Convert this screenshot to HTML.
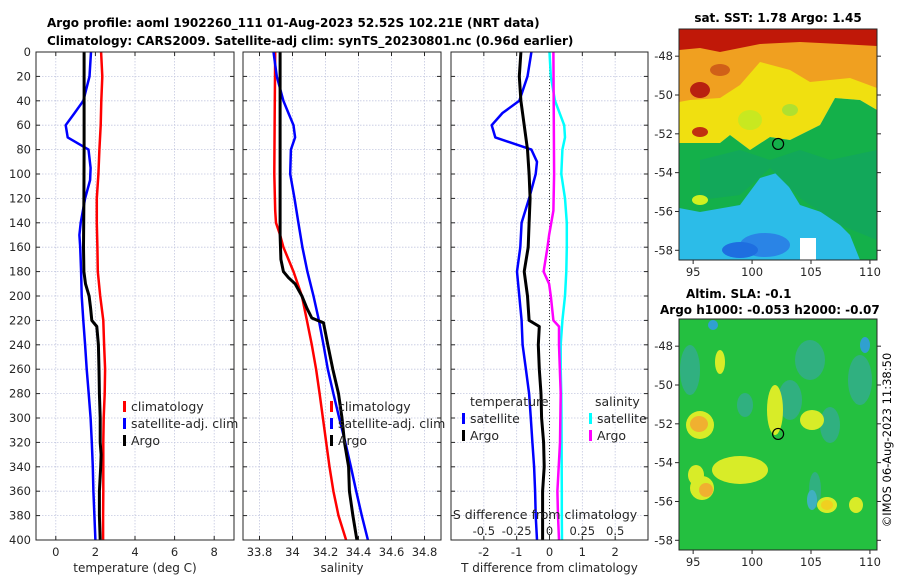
<!DOCTYPE html>
<html><head><meta charset="utf-8"><style>
body{margin:0;background:#fff;width:900px;height:580px;overflow:hidden}
svg{font-family:"DejaVu Sans","Liberation Sans",sans-serif}
</style></head><body>
<svg id="c" width="900" height="580" viewBox="0 0 900 580">
<text x="47" y="27" font-size="12" font-weight="bold">Argo profile: aoml 1902260_111 01-Aug-2023 52.52S 102.21E (NRT data)</text>
<text x="47" y="45" font-size="12" font-weight="bold">Climatology: CARS2009. Satellite-adj clim: synTS_20230801.nc (0.96d earlier)</text>
<g id="panels"></g>
<g id="maps"></g>
</svg>
<script>
// ---- data ----
const depthTicks=[0,20,40,60,80,100,120,140,160,180,200,220,240,260,280,300,320,340,360,380,400];
const tTicks=[0,2,4,6,8];
const sTicks=[33.8,34,34.2,34.4,34.6,34.8];
const sTickLabels=["33.8","34","34.2","34.4","34.6","34.8"];
const dTicks=[-2,-1,0,1,2];
const sdTicks=[-0.5,-0.25,0,0.25,0.5];
const sdTickLabels=["-0.5","-0.25","0","0.25","0.5"];

const climTdepth=[0,20,40,60,80,100,120,140,160,180,200,220,240,260,280,300,320,340,360,380,400];
const climT=[2.29,2.35,2.30,2.27,2.20,2.15,2.07,2.07,2.10,2.12,2.24,2.40,2.44,2.49,2.47,2.42,2.40,2.40,2.40,2.39,2.39];
const satTdepth=[0,20,40,50,60,70,80,95,105,120,140,150,160,180,200,220,240,260,280,300,320,340,360,380,400];
const satT=[1.78,1.70,1.39,0.95,0.50,0.60,1.65,1.76,1.73,1.48,1.26,1.19,1.23,1.28,1.31,1.39,1.48,1.56,1.66,1.76,1.82,1.87,1.90,1.95,2.00];
const argoTdepth=[0,40,80,120,160,180,190,200,210,220,225,240,260,280,300,320,330,340,360,380,400];
const argoT=[1.43,1.43,1.43,1.42,1.40,1.42,1.50,1.68,1.76,1.82,2.07,2.15,2.18,2.20,2.24,2.24,2.29,2.27,2.20,2.20,2.24];

const climSdepth=[0,50,100,130,140,150,160,180,200,220,240,260,280,300,320,340,360,380,400];
const climS=[33.895,33.892,33.890,33.895,33.900,33.925,33.945,34.006,34.057,34.087,34.117,34.143,34.164,34.184,34.204,34.224,34.248,34.279,34.325];
const satSdepth=[0,20,40,50,60,70,80,100,120,140,160,180,200,220,240,260,280,300,320,340,360,380,400];
const satS=[33.885,33.905,33.945,33.975,34.006,34.016,33.990,33.986,34.012,34.036,34.060,34.090,34.127,34.160,34.188,34.214,34.248,34.283,34.320,34.354,34.386,34.420,34.457];
const argoSdepth=[0,50,100,150,160,170,180,185,190,200,210,218,222,240,260,280,300,320,340,360,380,400];
const argoS=[33.925,33.925,33.925,33.925,33.927,33.930,33.945,33.976,34.016,34.057,34.087,34.117,34.188,34.214,34.244,34.279,34.300,34.315,34.340,34.345,34.366,34.390];

const satTdDepth=[0,20,40,50,60,70,80,90,100,120,140,160,180,200,220,240,260,280,300,320,340,360,380,400];
const satTd=[-0.55,-0.67,-0.92,-1.43,-1.76,-1.65,-0.55,-0.38,-0.42,-0.62,-0.85,-0.89,-0.99,-0.92,-0.85,-0.82,-0.72,-0.62,-0.57,-0.52,-0.47,-0.44,-0.42,-0.38];
const argoTdDepth=[0,20,40,60,80,100,120,140,160,180,200,220,225,240,260,280,300,320,340,360,380,400];
const argoTd=[-0.87,-0.92,-0.87,-0.77,-0.67,-0.62,-0.59,-0.62,-0.65,-0.77,-0.67,-0.62,-0.31,-0.34,-0.31,-0.26,-0.24,-0.18,-0.16,-0.21,-0.21,-0.21];
const satSdDepth=[0,20,40,60,70,80,100,120,140,160,180,200,220,240,260,280,300,320,340,360,380,400];
const satSd=[0,0.01,0.042,0.112,0.118,0.098,0.09,0.118,0.132,0.132,0.128,0.118,0.098,0.085,0.085,0.09,0.091,0.092,0.093,0.094,0.094,0.095];
const argoSdDepth=[0,100,130,150,160,180,190,200,220,225,240,280,320,360,380,400];
const argoSd=[0.03,0.035,0.03,-0.003,-0.015,-0.045,-0.003,0.01,0.03,0.072,0.072,0.085,0.08,0.06,0.065,0.072];

// ---- drawing ----
const NS='http://www.w3.org/2000/svg';
const root=document.getElementById('panels');
function mk(tag,at,parent){const e=document.createElementNS(NS,tag);for(const k in at)e.setAttribute(k,at[k]);(parent||root).appendChild(e);return e;}
const Y0=52,Y1=540;
function yS(d){return Y0+(d/400)*(Y1-Y0);}
function makeX(x0,x1,v0,v1){return v=>x0+(v-v0)/(v1-v0)*(x1-x0);}

function panel(name,x0,x1,xs,ticks,labels,xlabel,showY){
  const g=mk('g',{});
  
  
  ticks.forEach(t=>{const l=mk('line',{x1:xs(t),x2:xs(t),y1:Y0,y2:Y1,stroke:'#c4c8e0','stroke-width':0.8,'stroke-dasharray':'1.5,1.5'},g);
    });
  depthTicks.forEach(d=>{const l=mk('line',{x1:x0,x2:x1,y1:yS(d),y2:yS(d),stroke:'#c4c8e0','stroke-width':0.8,'stroke-dasharray':'1.5,1.5'},g);
    
    mk('line',{x1:x0,x2:x0+4,y1:yS(d),y2:yS(d),stroke:'#262626'},g);
    mk('line',{x1:x1-4,x2:x1,y1:yS(d),y2:yS(d),stroke:'#262626'},g);
    if(showY){const t=mk('text',{x:x0-5,y:yS(d)+4,'font-size':11.5,'text-anchor':'end',fill:'#262626'},g);t.textContent=d;
      }
  });
  ticks.forEach((t,i)=>{mk('line',{x1:xs(t),x2:xs(t),y1:Y1,y2:Y1-4,stroke:'#262626'},g);
    mk('line',{x1:xs(t),x2:xs(t),y1:Y0,y2:Y0+4,stroke:'#262626'},g);
    const tx=mk('text',{x:xs(t),y:556,'font-size':11.5,'text-anchor':'middle',fill:'#262626'},g);tx.textContent=labels[i];
    });
  const xl=mk('text',{x:(x0+x1)/2,y:572,'font-size':12,'text-anchor':'middle',fill:'#262626'},g);xl.textContent=xlabel;
  
  return g;
}
function series(g,name,xs,vals,depths,color,w){
  const p=mk('polyline',{points:vals.map((v,i)=>xs(v).toFixed(1)+','+yS(depths[i]).toFixed(1)).join(' '),fill:'none',stroke:color,'stroke-width':w,'stroke-linejoin':'round'},g);
  
}
function frame(g,x0,x1){const r=mk('rect',{x:x0,y:Y0,width:x1-x0,height:Y1-Y0,fill:'none',stroke:'#262626','stroke-width':1},g);
  }
function legend(g,x,y,items){items.forEach((it,i)=>{
  if(it[1]){mk('rect',{x:x,y:y+i*17-10,width:3,height:11,fill:it[1]},g);}
  const t=mk('text',{x:x+(it[1]?8:0),y:y+i*17,'font-size':12.5,fill:'#262626'},g);t.textContent=it[0];
  });}

const x1s=makeX(36,234,-1,9);
const g1=panel('temperature-panel',36,234,x1s,tTicks,tTicks.map(String),'temperature (deg C)',true);
series(g1,'climatology-temperature-line',x1s,climT,climTdepth,'#ff0000',2.5);
series(g1,'satellite-temperature-line',x1s,satT,satTdepth,'#0000ff',2.5);
series(g1,'argo-temperature-line',x1s,argoT,argoTdepth,'#000000',3);
frame(g1,36,234);
legend(g1,123,411,[['climatology','#ff0000'],['satellite-adj. clim','#0000ff'],['Argo','#000000']]);

const x2s=makeX(243,441,33.7,34.9);
const g2=panel('salinity-panel',243,441,x2s,sTicks,sTickLabels,'salinity',false);
series(g2,'climatology-salinity-line',x2s,climS,climSdepth,'#ff0000',2.5);
series(g2,'satellite-salinity-line',x2s,satS,satSdepth,'#0000ff',2.5);
series(g2,'argo-salinity-line',x2s,argoS,argoSdepth,'#000000',3);
frame(g2,243,441);
legend(g2,330,411,[['climatology','#ff0000'],['satellite-adj. clim','#0000ff'],['Argo','#000000']]);

const x3s=makeX(451,648,-3,3);
const x3ss=makeX(451,648,-0.75,0.75);
const g3=panel('difference-panel',451,648,x3s,dTicks,dTicks.map(String),'T difference from climatology',false);
const zl=mk('line',{x1:x3s(0),x2:x3s(0),y1:Y0,y2:Y1,stroke:'#333','stroke-width':1,'stroke-dasharray':'1,2'},g3);

series(g3,'satellite-temperature-diff-line',x3s,satTd,satTdDepth,'#0000ff',2.5);
series(g3,'argo-temperature-diff-line',x3s,argoTd,argoTdDepth,'#000000',3);
series(g3,'satellite-salinity-diff-line',x3ss,satSd,satSdDepth,'#00ffff',2.5);
series(g3,'argo-salinity-diff-line',x3ss,argoSd,argoSdDepth,'#ff00ff',2.5);
frame(g3,451,648);
legend(g3,470,406,[['temperature',null]]);
legend(g3,462,423,[['satellite','#0000ff'],['Argo','#000000']]);
legend(g3,595,406,[['salinity',null]]);
legend(g3,589,423,[['satellite','#00ffff'],['Argo','#ff00ff']]);
const st=mk('text',{x:545,y:519,'font-size':12.5,'text-anchor':'middle',fill:'#262626'},g3);st.textContent='S difference from climatology';

sdTicks.forEach((t,i)=>{const tx=mk('text',{x:x3ss(t),y:535,'font-size':11.5,'text-anchor':'middle',fill:'#262626'},g3);tx.textContent=sdTickLabels[i];
  });

// ---- maps ----
const mroot=document.getElementById('maps');
const lonTicks=[95,100,105,110];
const latTicks=[-48,-50,-52,-54,-56,-58];
function mapAxes(name,top,bot,drawFn){
  const g=mk('g',{},mroot);
  
  const xs=makeX(679,877,93.8,110.6);
  const ys=makeX(top,bot,-46.6,-58.5);
  const cid='clip'+name;
  const cp=mk('clipPath',{id:cid},g);mk('rect',{x:679,y:top,width:198,height:bot-top},cp);
  const inner=mk('g',{'clip-path':'url(#'+cid+')'},g);
  drawFn(inner);
  const c=mk('circle',{cx:xs(102.21),cy:ys(-52.52),r:5.5,fill:'none',stroke:'#000','stroke-width':1.2},g);
  
  mk('rect',{x:679,y:top,width:198,height:bot-top,fill:'none',stroke:'#262626'},g);
  lonTicks.forEach(l=>{mk('line',{x1:xs(l),x2:xs(l),y1:bot,y2:bot+4,stroke:'#262626'},g);
    const t=mk('text',{x:xs(l),y:bot+16,'font-size':11.5,'text-anchor':'middle',fill:'#262626'},g);t.textContent=l;
    });
  latTicks.forEach(l=>{mk('line',{x1:679,x2:675,y1:ys(l),y2:ys(l),stroke:'#262626'},g);
    mk('line',{x1:877,x2:881,y1:ys(l),y2:ys(l),stroke:'#262626'},g);
    const t=mk('text',{x:673,y:ys(l)+4,'font-size':11.5,'text-anchor':'end',fill:'#262626'},g);t.textContent=l;
    });
}
function poly(g,pts,fill){mk('polygon',{points:pts,fill:fill},g);}
function blob(g,cx,cy,rx,ry,fill){mk('ellipse',{cx:cx,cy:cy,rx:rx,ry:ry,fill:fill},g);}
mapAxes('sst-map',29,260,g=>{
  mk('rect',{x:679,y:29,width:198,height:231,fill:'#2cbce8'},g);
  poly(g,'679,143 720,143 730,135 750,150 770,137 790,140 820,125 835,98 860,100 877,110 877,260 860,260 850,235 830,215 800,205 780,172 760,178 740,205 700,212 679,208','#14b04a');
  poly(g,'700,160 740,150 770,160 800,150 830,160 877,150 877,240 840,225 800,198 770,168 740,195 700,200','#12a85a');
  poly(g,'679,29 877,29 877,110 860,100 835,98 820,125 790,140 770,137 750,150 730,135 720,143 679,143','#f0e010');
  poly(g,'679,29 877,29 877,88 850,78 810,82 790,70 760,62 740,85 720,98 690,100 679,102','#f0a020');
  poly(g,'679,29 877,29 877,46 840,44 800,42 760,44 720,52 700,48 679,50','#c01808');
  blob(g,700,90,10,8,'#b82010');blob(g,700,132,8,5,'#c03010');blob(g,720,70,10,6,'#d06018');
  blob(g,765,245,25,12,'#2a84e6');blob(g,740,250,18,8,'#1e6ee0');blob(g,700,200,8,5,'#d0f020');
  blob(g,750,120,12,10,'#c8e820');blob(g,790,110,8,6,'#b0e030');
  mk('rect',{x:800,y:238,width:16,height:22,fill:'#ffffff'},g);
});
mapAxes('sla-map',319,550,g=>{
  mk('rect',{x:679,y:319,width:198,height:231,fill:'#24c040'},g);
  [[690,370,10,25],[745,405,8,12],[790,400,12,20],[815,490,6,18],[830,425,10,18],[860,380,12,25],[810,360,15,20]].forEach(b=>blob(g,b[0],b[1],b[2],b[3],'#30b080'));
  blob(g,713,325,5,5,'#30a0d0');blob(g,865,345,5,8,'#30a0d0');blob(g,812,500,5,10,'#40b0c0');
  [[700,425,14,14],[702,488,12,12],[740,470,28,14],[775,410,8,25],[812,420,12,10],[827,505,10,8],[856,505,7,8],[720,362,5,12],[696,475,8,10]].forEach(b=>blob(g,b[0],b[1],b[2],b[3],'#d8ec28'));
  blob(g,699,424,9,8,'#f0b030');blob(g,706,490,7,7,'#f0b030');blob(g,827,505,6,5,'#f0d020');
});
function txt(x,y,s,size,w,anchor,name){const t=mk('text',{x:x,y:y,'font-size':size,'font-weight':w,'text-anchor':anchor,fill:'#000'},mroot);t.textContent=s;
  return t;}
txt(778,22,'sat. SST: 1.78 Argo: 1.45',12,'bold','middle','sst-map-title');
txt(686,298,'Altim. SLA: -0.1',12,'bold','start','sla-title');
txt(660,314,'Argo h1000: -0.053 h2000: -0.07',12,'bold','start','sla-subtitle');
const v=txt(0,0,'©IMOS 06-Aug-2023 11:38:50',11.5,'normal','middle','timestamp');
v.setAttribute('transform','translate(891,440) rotate(-90)');
</script>
</body></html>
